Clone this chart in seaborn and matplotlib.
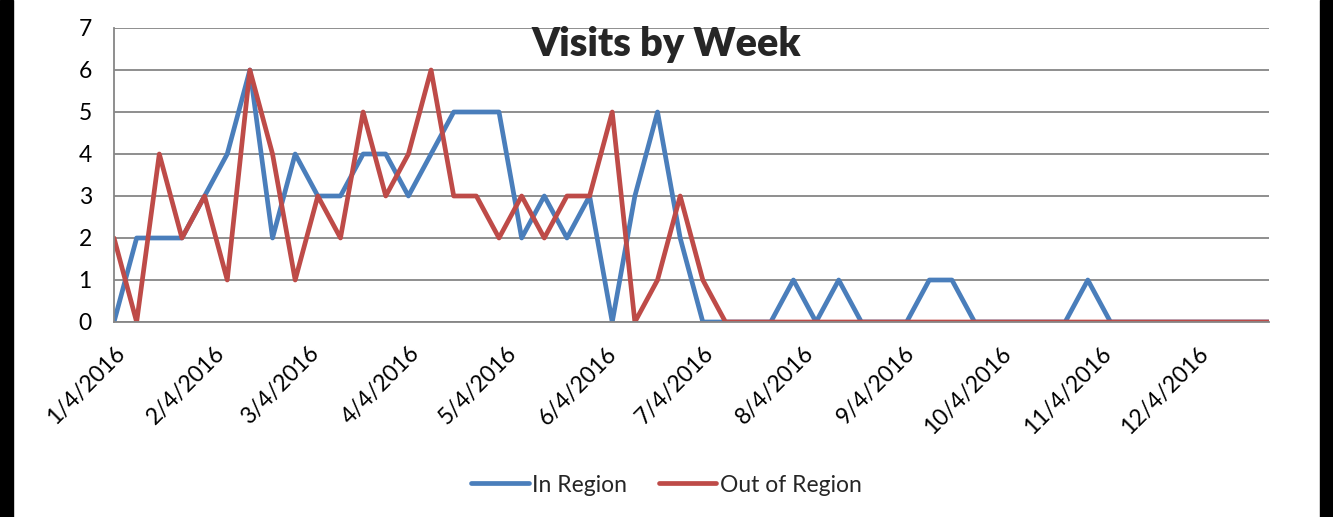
import pandas as pd
import seaborn as sns
import matplotlib.pyplot as plt
import matplotlib.dates as mdates
from matplotlib.patches import Rectangle

# weekly visit counts, weeks starting Monday 1/4/2016
weeks = pd.date_range('2016-01-04', periods=52, freq='W-MON')
in_region = [0, 2, 2, 2, 3, 4, 6, 2, 4, 3, 3, 4, 4, 3, 4, 5, 5, 5, 2, 3,
             2, 3, 0, 3, 5, 2, 0, 0, 0, 0, 1, 0, 1, 0, 0, 0, 1, 1, 0, 0,
             0, 0, 0, 1, 0, 0, 0, 0, 0, 0, 0, 0]
out_region = [2, 0, 4, 2, 3, 1, 6, 4, 1, 3, 2, 5, 3, 4, 6, 3, 3, 2, 3, 2,
              3, 3, 5, 0, 1, 3, 1, 0, 0, 0, 0, 0, 0, 0, 0, 0, 0, 0, 0, 0,
              0, 0, 0, 0, 0, 0, 0, 0, 0, 0, 0, 0]
series_names = ['In Region', 'Out of Region']
tick_dates = pd.to_datetime(['2016-01-04', '2016-02-04', '2016-03-04', '2016-04-04',
                             '2016-05-04', '2016-06-04', '2016-07-04', '2016-08-04',
                             '2016-09-04', '2016-10-04', '2016-11-04', '2016-12-04'])

df = pd.DataFrame({'week': list(weeks) * 2,
                   'visits': in_region + out_region,
                   'series': [series_names[0]] * 52 + [series_names[1]] * 52})

sns.set_style('white')
plt.rcParams['font.family'] = ['Lato', 'DejaVu Sans']

fig = plt.figure(figsize=(13.33, 5.17), dpi=100)
ax = fig.add_axes([114 / 1333, 1 - 322 / 517, (1269 - 114) / 1333, (322 - 28) / 517])

sns.lineplot(data=df, x='week', y='visits', hue='series', ax=ax,
             palette=['#4A7EBB', '#BE4B48'], linewidth=3.4, legend=False)

ax.set_ylim(0, 7)
ax.set_yticks(range(0, 8))
ax.set_xticks(tick_dates)
ax.set_xlim(weeks[0], weeks[-1])
ax.xaxis.set_major_formatter(mdates.DateFormatter('%-m/%-d/%Y'))
ax.grid(axis='y', color='#868686', linewidth=1.3)
ax.set_axisbelow(True)
ax.set_xlabel('')
ax.set_ylabel('')
for s in ['top', 'right']:
    ax.spines[s].set_visible(False)
for s in ['left', 'bottom']:
    ax.spines[s].set_color('#868686')
    ax.spines[s].set_linewidth(1.3)
ax.tick_params(axis='both', colors='#868686', labelcolor='black', labelsize=16.5,
               length=6, width=1.3, direction='out')
ax.tick_params(axis='y', pad=10)
ax.tick_params(axis='x', pad=9)
plt.setp(ax.get_xticklabels(), rotation=45, ha='right', rotation_mode='anchor')

fig.text(0.5, 1 - 56 / 517, 'Visits by Week', ha='center', va='baseline',
         fontsize=28.5, fontweight='heavy')

handles = [plt.Line2D([], [], color=c, linewidth=3.4, solid_capstyle='round')
           for c in ['#4A7EBB', '#BE4B48']]
fig.legend(handles, series_names, loc='center', bbox_to_anchor=(0.5, 1 - 485 / 517),
           ncol=2, frameon=False, fontsize=16.5, handlelength=2.5,
           handletextpad=0.15, columnspacing=1.4)

# dark borders at both sides of the image
fig.patches.append(Rectangle((0, 0), 13 / 1333, 1, transform=fig.transFigure, color='black'))
fig.patches.append(Rectangle((1320 / 1333, 0), 13 / 1333, 1, transform=fig.transFigure, color='black'))

fig.savefig('out.png', dpi=100)
